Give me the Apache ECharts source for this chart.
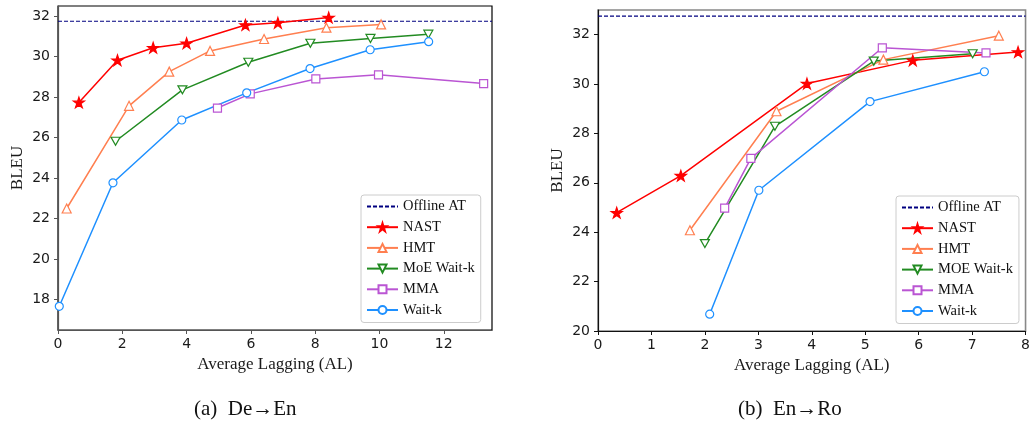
<!DOCTYPE html>
<html>
<head>
<meta charset="utf-8">
<script src="https://cdn.jsdelivr.net/npm/echarts@6/dist/echarts.min.js"></script>
<style>
html,body{margin:0;padding:0;background:#fff;}
#c{width:1033px;height:423px;}
</style>
</head>
<body>
<div id="c"></div>
<script>
// ---- Data: (a) De->En ----
const deNastX = [0.65, 1.85, 2.96, 4.0, 5.83, 6.84, 8.42];
const deNastY = [27.74, 29.82, 30.44, 30.66, 31.56, 31.67, 31.93];
const deHmtX = [0.27, 2.21, 3.46, 4.73, 6.41, 8.35, 10.05];
const deHmtY = [22.5, 27.57, 29.26, 30.28, 30.87, 31.43, 31.59];
const deMoeX = [1.79, 3.87, 5.92, 7.85, 9.72, 11.52];
const deMoeY = [25.82, 28.36, 29.72, 30.66, 30.9, 31.11];
const deMmaX = [4.96, 5.98, 8.02, 9.97, 13.24];
const deMmaY = [27.46, 28.16, 28.9, 29.1, 28.67];
const deWaitX = [0.04, 1.71, 3.85, 5.87, 7.84, 9.71, 11.53];
const deWaitY = [17.67, 23.77, 26.87, 28.21, 29.41, 30.34, 30.74];
const deOffline = 31.75;
const deXRange = [0, 13.5];
const deYRange = [16.5, 32.5];
const deXTicks = [0, 2, 4, 6, 8, 10, 12];
const deYTicks = [18, 20, 22, 24, 26, 28, 30, 32];

// ---- Data: (b) En->Ro ----
const roNastX = [0.35, 1.55, 3.91, 5.89, 7.86];
const roNastY = [24.79, 26.29, 30.02, 30.96, 31.3];
const roHmtX = [1.72, 3.34, 5.34, 7.5];
const roHmtY = [24.08, 28.9, 30.99, 31.96];
const roMoeX = [2.0, 3.31, 5.16, 7.01];
const roMoeY = [23.54, 28.29, 30.93, 31.23];
const roMmaX = [2.37, 2.86, 5.32, 7.26];
const roMmaY = [24.98, 26.99, 31.47, 31.26];
const roWaitX = [2.09, 3.01, 5.09, 7.23];
const roWaitY = [20.68, 25.7, 29.29, 30.5];
const roOffline = 32.75;
const roXRange = [0, 8];
const roYRange = [20, 33];
const roXTicks = [0, 1, 2, 3, 4, 5, 6, 7, 8];
const roYTicks = [20, 22, 24, 26, 28, 30, 32];

const leftNames = ['Offline AT', 'NAST', 'HMT', 'MoE Wait-k', 'MMA', 'Wait-k'];
const rightNames = ['Offline AT', 'NAST', 'HMT', 'MOE Wait-k', 'MMA', 'Wait-k'];
const captions = ['(a)  De\u2192En', '(b)  En\u2192Ro'];

const zip = (xs, ys) => xs.map((x, i) => [x, ys[i]]);

const STAR = 'path://M100,0 L122.45,69.1 L195.1,69.1 L136.3,111.8 L158.8,180.9 L100,138.2 L41.2,180.9 L63.7,111.8 L4.9,69.1 L77.55,69.1 Z';
const TRI_DOWN = 'path://M0,0 L10,0 L5,8.66 Z';

const styles = {
  nast: {color: '#ff0000', symbol: STAR, size: [11, 10.5], fill: '#ff0000'},
  hmt: {color: '#ff7f50', symbol: 'triangle', size: 9, fill: '#fff'},
  moe: {color: '#228b22', symbol: TRI_DOWN, size: [9, 8], fill: '#fff'},
  mma: {color: '#ba55d3', symbol: 'rect', size: 8, fill: '#fff'},
  wait: {color: '#1e90ff', symbol: 'circle', size: 8, fill: '#fff'}
};

function mk(name, key, data, gi) {
  const s = styles[key];
  return {
    name: name, type: 'line', xAxisIndex: gi, yAxisIndex: gi,
    data: data, symbol: s.symbol, symbolSize: s.size, showSymbol: true,
    lineStyle: {color: s.color, width: 1.5},
    itemStyle: {color: s.fill, borderColor: s.color, borderWidth: 1.2},
    emphasis: {disabled: true}, animation: false, clip: true
  };
}
function offline(val, range, gi) {
  return {
    name: 'Offline AT', type: 'line', xAxisIndex: gi, yAxisIndex: gi,
    data: [[range[0], val], [range[1], val]], symbol: 'none',
    lineStyle: {color: '#000080', width: 1.1, type: [4, 2]},
    itemStyle: {color: '#000080'},
    emphasis: {disabled: true}, animation: false
  };
}

const tickFont = {fontFamily: 'DejaVu Sans', fontSize: 14, color: '#1a1a1a'};
const nameFont = {fontFamily: 'Liberation Serif', fontSize: 17, color: '#1a1a1a'};

function xAx(gi, range, ticks, lineColor) {
  return {
    type: 'value', gridIndex: gi, min: range[0], max: range[1],
    name: 'Average Lagging (AL)', nameLocation: 'middle', nameGap: 26, nameTextStyle: nameFont,
    axisLine: {show: true, onZero: false, lineStyle: {color: lineColor, width: 1.2}},
    axisTick: {show: true, inside: false, length: 4, customValues: ticks, lineStyle: {color: lineColor, width: 1}},
    axisLabel: Object.assign({show: true, margin: 7, customValues: ticks}, tickFont),
    splitLine: {show: false}
  };
}
function yAx(gi, range, ticks, lineColor) {
  return {
    type: 'value', gridIndex: gi, min: range[0], max: range[1],
    name: 'BLEU', nameLocation: 'middle', nameGap: 32, nameTextStyle: nameFont,
    axisLine: {show: true, onZero: false, lineStyle: {color: lineColor, width: 1.2}},
    axisTick: {show: true, inside: false, length: 4, customValues: ticks, lineStyle: {color: lineColor, width: 1}},
    axisLabel: Object.assign({show: true, margin: 8, customValues: ticks}, tickFont),
    splitLine: {show: false}
  };
}
function legend(names, left, top) {
  const data = names.map(n => n === 'Offline AT'
    ? {name: n, itemStyle: {opacity: 0}}
    : {name: n});
  return {
    data: data, orient: 'vertical', left: left, top: top,
    itemWidth: 31, itemHeight: 10, itemGap: 5.7,
    padding: [4, 6, 5, 5],
    textStyle: {fontFamily: 'Liberation Serif', fontSize: 14.5, color: '#111', lineHeight: 15},
    borderColor: '#cccccc', borderWidth: 1, borderRadius: 3,
    backgroundColor: 'rgba(255,255,255,0.8)', selectedMode: false
  };
}

const chart = echarts.init(document.getElementById('c'), null, {renderer: 'canvas'});
chart.setOption({
  backgroundColor: '#fff',
  animation: false,
  grid: [
    {left: 58, top: 6, width: 434, height: 324, show: true, borderColor: '#000', borderWidth: 1.2, backgroundColor: 'transparent'},
    {left: 598, top: 10, width: 430, height: 321, show: true, borderColor: '#888', borderWidth: 1.6, backgroundColor: 'transparent'}
  ],
  xAxis: [xAx(0, deXRange, deXTicks, '#555'), xAx(1, roXRange, roXTicks, '#111')],
  yAxis: [yAx(0, deYRange, deYTicks, '#555'), yAx(1, roYRange, roYTicks, '#111')],
  legend: [legend(leftNames, 361, 195), legend(rightNames, 896, 196)],
  series: [
    offline(deOffline, deXRange, 0),
    mk('NAST', 'nast', zip(deNastX, deNastY), 0),
    mk('HMT', 'hmt', zip(deHmtX, deHmtY), 0),
    mk('MoE Wait-k', 'moe', zip(deMoeX, deMoeY), 0),
    mk('MMA', 'mma', zip(deMmaX, deMmaY), 0),
    mk('Wait-k', 'wait', zip(deWaitX, deWaitY), 0),
    offline(roOffline, roXRange, 1),
    mk('NAST', 'nast', zip(roNastX, roNastY), 1),
    mk('HMT', 'hmt', zip(roHmtX, roHmtY), 1),
    mk('MOE Wait-k', 'moe', zip(roMoeX, roMoeY), 1),
    mk('MMA', 'mma', zip(roMmaX, roMmaY), 1),
    mk('Wait-k', 'wait', zip(roWaitX, roWaitY), 1)
  ],
  graphic: [
    {type: 'text', left: 194, top: 399, style: {text: captions[0], font: '21px "Liberation Serif"', fill: '#111'}},
    {type: 'text', left: 738, top: 399, style: {text: captions[1], font: '21px "Liberation Serif"', fill: '#111'}}
  ]
});
</script>
</body>
</html>
